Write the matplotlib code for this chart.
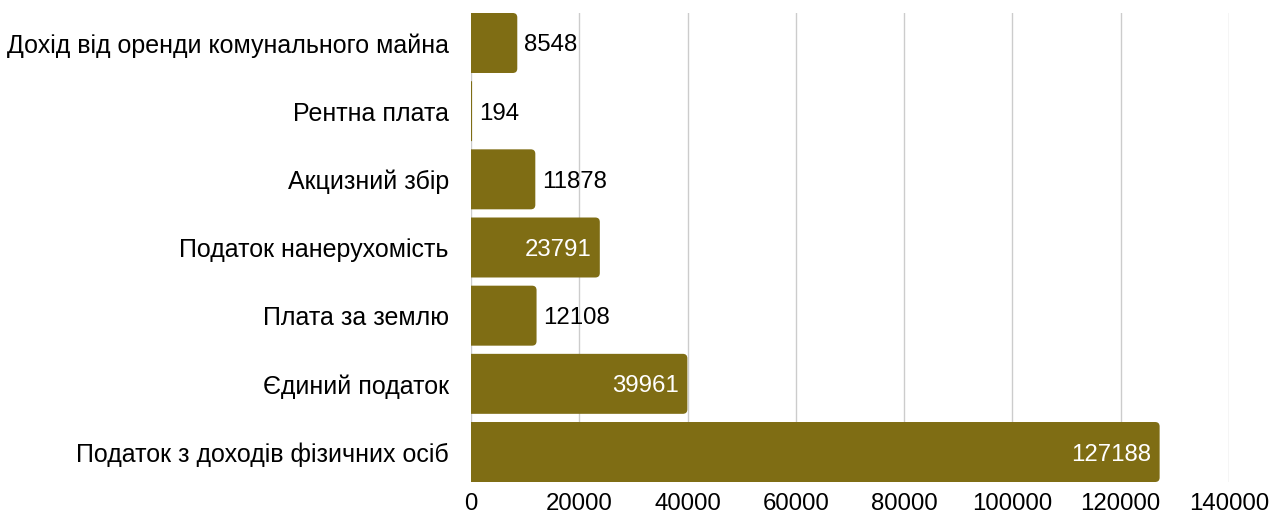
import matplotlib
matplotlib.use("Agg")
import matplotlib.pyplot as plt
from matplotlib.patches import FancyBboxPatch

categories = [
    "Дохід від оренди комунального майна",
    "Рентна плата",
    "Акцизний збір",
    "Податок нанерухомість",
    "Плата за землю",
    "Єдиний податок",
    "Податок з доходів фізичних осіб",
]
values = [8548, 194, 11878, 23791, 12108, 39961, 127188]
xticks = [0, 20000, 40000, 60000, 80000, 100000, 120000, 140000]

BAR_COLOR = "#7f6d14"
FS_CAT = 18
FS_VAL = 17.3
FS_TICK = 17.3

plt.rcParams["font.family"] = ["Liberation Sans", "DejaVu Sans"]

fig = plt.figure(figsize=(12.8, 5.16), dpi=100)
ax = fig.add_axes([471 / 1280, 1 - 482 / 516, (1229 - 471) / 1280, (482 - 13) / 516])

n = len(categories)
ypos = list(range(n))
h = 0.88
ax.set_xlim(0, 140000)
ax.set_ylim(n - 1 + h / 2, -h / 2)

# pixel scale for rounded corners
px_x = 140000 / (1229 - 471)
px_y = (n - 1 + h) / (482 - 13)
r_px = 4.5
for y, v in zip(ypos, values):
    rx = min(r_px * px_x, v / 2)
    aspect = (r_px * px_y) / (r_px * px_x)
    p = FancyBboxPatch((-rx * 2, y - h / 2), v + rx * 2, h,
                       boxstyle=f"round,pad=0,rounding_size={rx}",
                       mutation_aspect=aspect,
                       facecolor=BAR_COLOR, edgecolor="none", zorder=3)
    ax.add_patch(p)

for y, v in zip(ypos, values):
    if v > 20000:
        ax.annotate(str(v), (v, y), xytext=(-6, 0), textcoords="offset points",
                    ha="right", va="center_baseline", color="white", fontsize=FS_VAL, zorder=4)
    else:
        ax.annotate(str(v), (v, y), xytext=(5, 0), textcoords="offset points",
                    ha="left", va="center_baseline", color="black", fontsize=FS_VAL, zorder=4)

ax.set_yticks(ypos)
ax.set_yticklabels(categories, fontsize=FS_CAT)
ax.set_xticks(xticks)
ax.set_xticklabels([str(t) for t in xticks], fontsize=FS_TICK)
ax.tick_params(axis="both", length=0)
ax.tick_params(axis="y", pad=16)
ax.tick_params(axis="x", pad=8)
ax.grid(axis="x", color="#cccccc", linewidth=1, zorder=0)
for s in ax.spines.values():
    s.set_visible(False)

fig.savefig("out.png", dpi=100)
